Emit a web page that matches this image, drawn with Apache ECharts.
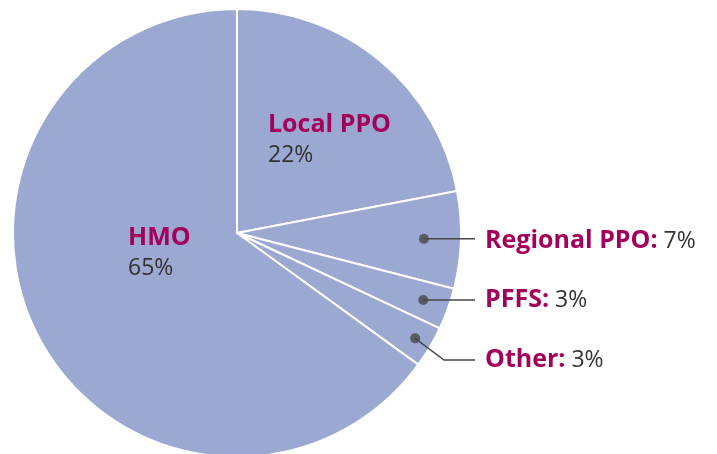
<!DOCTYPE html>
<html><head><meta charset="utf-8">
<script src="https://cdn.jsdelivr.net/npm/echarts@6/dist/echarts.min.js"></script>
<style>html,body{margin:0;padding:0;background:#fff}#c{width:717px;height:454px}</style>
</head><body><div id="c"></div>
<script>
const categories = ['Local PPO', 'Regional PPO', 'PFFS', 'Other', 'HMO'];
const shares = [22, 7, 3, 3, 65];
const percentLabels = ['22%', '7%', '3%', '3%', '65%'];
const insideLabel = [true, false, false, false, true];

// layout (pixels)
const CX = 237, CY = 233, R = 224;
const labelPos = {
  'Local PPO': {x: 268, y: 110},
  'HMO': {x: 128, y: 223},
  'Regional PPO': {x: 485, y: 241, dotR: 187, elbow: null},
  'PFFS': {x: 485, y: 300, dotR: 198, elbow: null},
  'Other': {x: 485, y: 360, dotR: 207, elbow: [444, 360]}
};
const total = shares.reduce((a, b) => a + b, 0);
const mids = [];
{ let c = 0; shares.forEach(v => { mids.push(c + v / 2); c += v; }); }
function dotXY(i) {
  const p = labelPos[categories[i]];
  const a = mids[i] / total * Math.PI * 2;
  return [CX + p.dotR * Math.sin(a), CY - p.dotR * Math.cos(a)];
}

const FONT = '"Open Sans", "Noto Sans", sans-serif';
const MAG = '#A3005C', TXT = '#333333', LINE = '#474747';

const pieData = categories.map((name, i) => {
  const inside = insideLabel[i];
  return {
    name, value: shares[i],
    label: inside ? {
      position: 'inside',
      formatter: '{n|' + name + '}\n{v|' + percentLabels[i] + '}'
    } : {
      position: 'outside',
      formatter: '{n|' + name + ':}{v| ' + percentLabels[i] + '}'
    },
    labelLine: {show: false}
  };
});

const leaderLines = categories.map((name, i) => {
  if (insideLabel[i]) return null;
  const p = labelPos[name];
  const d = dotXY(i);
  const pts = p.elbow ? [d, p.elbow, [p.x - 10, p.y]] : [d, [p.x - 10, d[1]]];
  return {type: 'polyline', shape: {points: pts}, silent: true, z: 4,
          style: {stroke: LINE, lineWidth: 1.5, fill: null}};
}).filter(g => g);

const chart = echarts.init(document.getElementById('c'), null, {renderer: 'canvas'});
chart.setOption({
  animation: false,
  backgroundColor: '#fff',
  polar: {center: [CX, CY], radius: R},
  angleAxis: {type: 'value', min: 0, max: total, startAngle: 90, clockwise: true, show: false},
  radiusAxis: {type: 'value', min: 0, max: R, show: false},
  graphic: leaderLines,
  series: [{
    type: 'pie',
    center: [CX, CY],
    radius: [0, R],
    startAngle: 90,
    clockwise: true,
    silent: true,
    avoidLabelOverlap: false,
    itemStyle: {color: '#9BA8D1', borderColor: '#fff', borderWidth: 2},
    label: {
      show: true,
      overflow: 'none',
      width: 400,
      fontFamily: FONT,
      align: 'left',
      rich: {
        n: {fontFamily: FONT, fontWeight: 'bold', fontSize: 25, color: MAG, lineHeight: 30},
        v: {fontFamily: FONT, fontSize: 23, color: TXT, lineHeight: 30}
      }
    },
    labelLayout: function (params) {
      const i = params.dataIndex;
      const p = labelPos[categories[i]];
      if (insideLabel[i]) {
        return {x: p.x, y: p.y, align: 'left', verticalAlign: 'top'};
      }
      return {x: p.x, y: p.y, align: 'left', verticalAlign: 'middle'};
    },
    data: pieData,
    z: 1
  }, {
    type: 'scatter',
    coordinateSystem: 'polar',
    silent: true,
    symbolSize: 10,
    itemStyle: {color: LINE},
    data: categories.map((n, i) => insideLabel[i] ? null : [labelPos[n].dotR, mids[i]]).filter(d => d),
    z: 5
  }]
});
</script></body></html>
